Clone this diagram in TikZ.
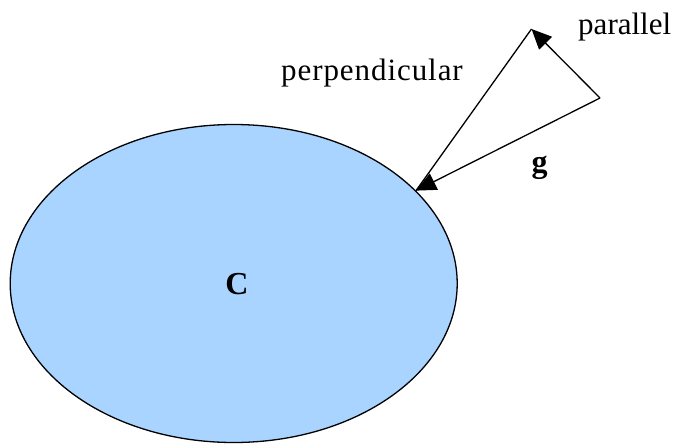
\documentclass[tikz,border=0pt]{standalone}
\usepackage{fontspec}
\setmainfont{Liberation Serif}
\usetikzlibrary{positioning,arrows.meta,shapes.geometric}
\definecolor{bodyblue}{RGB}{168,212,255}

\begin{document}
\begin{tikzpicture}[x=1pt,y=-1pt,
  vec/.style={line width=1.3pt,-{Triangle[length=20pt,width=18pt]}},
  lbl/.style={anchor=base,inner sep=0pt,font=\fontsize{31}{36}\selectfont},
  bold lbl/.style={lbl,font=\fontsize{32}{36}\selectfont\bfseries}]
\useasboundingbox (0,0) rectangle (676,444);
\node[draw,ellipse,line width=1.3pt,fill=bodyblue,minimum width=447pt,minimum height=318pt,inner sep=0pt] (body) at (233.7,283.5) {};
\node[bold lbl] (cname) at (237,294) {C};
\coordinate (apex) at (531.5,29);
\coordinate (corner) at (600,98);
\coordinate (hit) at (body.27);
\draw[line width=1.3pt] (hit) -- (apex);
\draw[vec] (corner) -- (apex);
\draw[vec] (corner) -- (hit);
\node[lbl] (perp) at (372,80) {\addfontfeature{LetterSpace=3}perpendicular};
\node[lbl] (para) at (624.7,35) {parallel};
\node[bold lbl] (gname) at (539.5,172) {g};
\end{tikzpicture}
\end{document}
